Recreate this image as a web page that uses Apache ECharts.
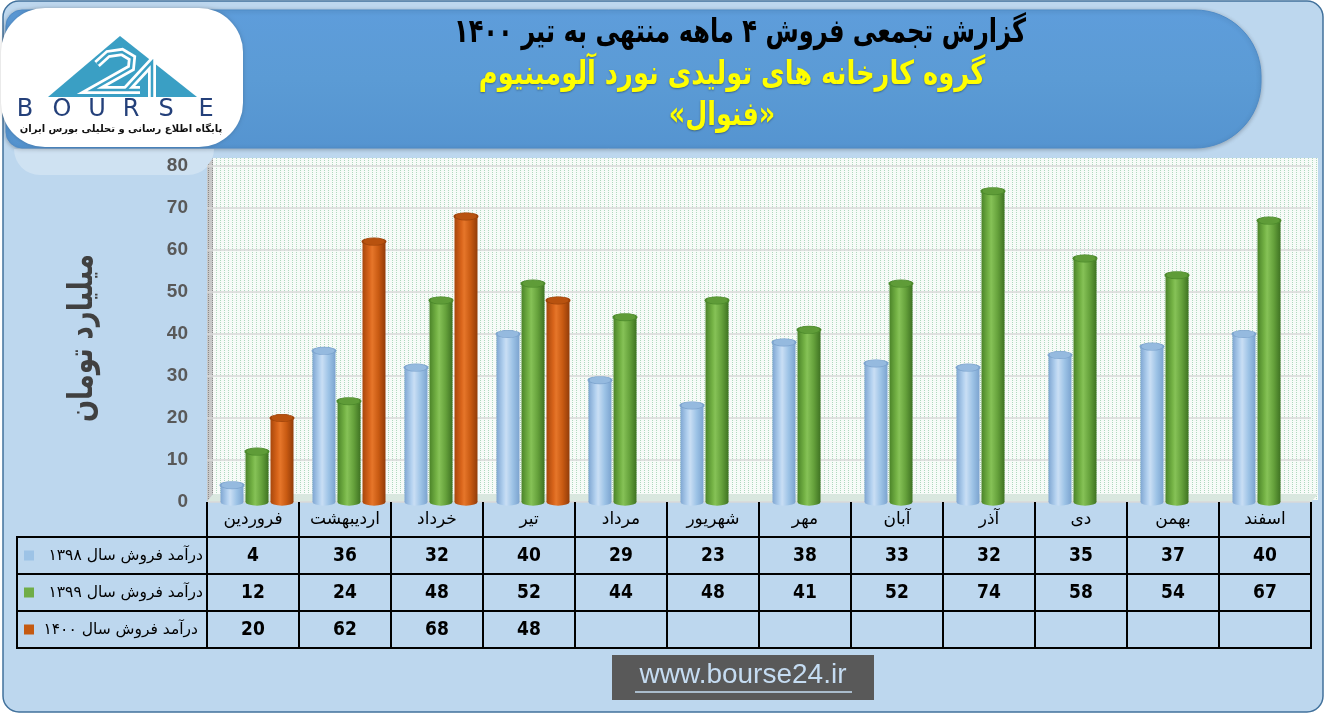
<!DOCTYPE html>
<html>
<head>
<meta charset="utf-8">
<script src="https://cdn.jsdelivr.net/npm/echarts@6/dist/echarts.min.js"></script>
<style>
html,body{margin:0;padding:0;background:#ffffff;}
#c{width:1326px;height:715px;}
</style>
</head>
<body>
<div id="c"></div>
<script>
// ---- data ----
const months = ['فروردین','اردیبهشت','خرداد','تیر','مرداد','شهریور','مهر','آبان','آذر','دی','بهمن','اسفند'];
const sales1398 = [4,36,32,40,29,23,38,33,32,35,37,40];
const sales1399 = [12,24,48,52,44,48,41,52,74,58,54,67];
const sales1400 = [20,62,68,48];
const seriesNames = ['درآمد فروش سال ۱۳۹۸','درآمد فروش سال ۱۳۹۹','درآمد فروش سال ۱۴۰۰'];
const yMin = 0, yMax = 80, yStep = 10;
const titleLine1 = 'گزارش تجمعی فروش ۴ ماهه منتهی به تیر ۱۴۰۰';
const titleLine2 = 'گروه کارخانه های تولیدی نورد آلومینیوم';
const titleLine3 = '«فنوال»';
const yAxisTitle = 'میلیارد تومان';
const siteText = 'www.bourse24.ir';

// ---- styles ----
const FA = "'DejaVu Sans', sans-serif";
const NUM = "'Liberation Sans Narrow','DejaVu Sans Condensed','Liberation Sans',sans-serif";
const palettes = [
  {stops:['#7fa6d2','#b3d1ef','#c9def4','#9dc3e6','#7ba3cf'], top:'#95badf', rim:'#7ea5cf', key:'#9dc3e6'},
  {stops:['#4b8429','#74b245','#86c257','#66a23c','#3f7322'], top:'#5f9c38', rim:'#4d8a2c', key:'#70ad47'},
  {stops:['#a8470c','#d9651b','#e6762a','#c85a12','#923c09'], top:'#b8520f', rim:'#9e440b', key:'#c55a11'}
];

function grad(stops){
  return new echarts.graphic.LinearGradient(0,0,1,0,[
    {offset:0,color:stops[0]},{offset:0.3,color:stops[1]},{offset:0.42,color:stops[2]},
    {offset:0.7,color:stops[3]},{offset:1,color:stops[4]}]);
}

function makeRender(idx){
  const p = palettes[idx];
  return function(params, api){
    const v = api.value(1);
    if (v == null || isNaN(v)) return;
    const top = api.coord([api.value(0), v]);
    const base = api.coord([api.value(0), 0]);
    const w = 23, gap = 2, shift = 4;
    const cx = top[0] + (idx - 1) * (w + gap) + shift;
    return {type:'group', children:[
      {type:'circle', shape:{cx:0,cy:0,r:w/2}, x:cx, y:base[1], scaleY:0.32, style:{fill:grad(p.stops)}},
      {type:'rect', shape:{x:cx-w/2, y:top[1], width:w, height:base[1]-top[1]}, style:{fill:grad(p.stops)}},
      {type:'circle', shape:{cx:0,cy:0,r:w/2}, x:cx, y:top[1], scaleY:0.32, style:{fill:p.top, stroke:p.rim, lineWidth:2}}
    ]};
  };
}

const allSeries = [sales1398, sales1399, sales1400];

const chart = echarts.init(document.getElementById('c'));
chart.setOption({
  backgroundColor:'#ffffff',
  animation:false,
  grid:{left:207, right:15, top:166, bottom:213},
  xAxis:{
    type:'category', data:months,
    axisLine:{show:false},
    axisTick:{show:true, length:146, interval:0, lineStyle:{color:'#000', width:2}},
    axisLabel:{color:'#000', fontSize:17, fontFamily:FA, margin:9, interval:0},
    splitLine:{show:false}
  },
  yAxis:{
    type:'value', min:yMin, max:yMax, interval:yStep,
    axisLine:{show:false}, axisTick:{show:false},
    axisLabel:{color:'#595959', fontSize:19, fontWeight:'bold', fontFamily:"'Liberation Sans',sans-serif", margin:19},
    splitLine:{lineStyle:{color:'#d9d9d9', width:1.5}}
  },
  series: allSeries.map((arr, idx) => ({
    type:'custom', name:seriesNames[idx], z:5,
    renderItem: makeRender(idx),
    encode:{x:0, y:1},
    data: arr.map((v,i)=>[i,v])
  }))
});

// dotted wall pattern
function makePattern(bg, dot){
  const cv = document.createElement('canvas');
  cv.width = 4; cv.height = 2;
  const ctx = cv.getContext('2d');
  ctx.fillStyle = bg; ctx.fillRect(0,0,4,2);
  ctx.fillStyle = dot; ctx.fillRect(0,0,1,1);
  return {image:cv, repeat:'repeat'};
}

const g = [];
// outer frame
g.push({type:'rect', z:-20, shape:{x:3,y:1,width:1320,height:711,r:16}, style:{fill:'#bdd7ee', stroke:'#41719c', lineWidth:1.5}});
// banner
g.push({type:'rect', z:-15, shape:{x:6,y:10,width:1255,height:138,r:[16,66,66,16]},
  style:{fill:new echarts.graphic.LinearGradient(0,0,0,1,[{offset:0,color:'#5e9ddb'},{offset:0.5,color:'#5b9bd5'},{offset:1,color:'#5594d0'}]), stroke:'#4f8cc8', lineWidth:1, shadowColor:'rgba(0,0,0,0.25)', shadowBlur:4, shadowOffsetY:1}});
// reflection under logo
g.push({type:'rect', z:-14, shape:{x:14,y:149,width:200,height:26,r:[0,0,26,26]}, style:{fill:'rgba(255,255,255,0.28)'}});
// back wall
g.push({type:'rect', z:-12, shape:{x:213,y:158,width:1105,height:342}, style:{fill:makePattern('#f7fbf8','#afd8be')}});
// left wall
g.push({type:'polygon', z:-11, shape:{points:[[207,166],[213,158],[213,494],[207,502]]}, style:{fill:makePattern('#c8c8c8','#8a8a8a')}});
// floor
g.push({type:'polygon', z:-11, shape:{points:[[207,502],[213,494],[1318,494],[1311,502]]}, style:{fill:'#d9e7df'}});

// logo
g.push({type:'rect', z:-5, shape:{x:1,y:8,width:242,height:139,r:44}, style:{fill:'#ffffff', shadowColor:'rgba(0,0,0,0.2)', shadowBlur:4}});
g.push({type:'polygon', z:-4, shape:{points:[[120,36],[48,97],[197,97]]}, style:{fill:'#3a9fc4'}});
const two = [[97,64],[108,54],[122,52],[132,58],[131,68],[92,90],[140,90]];
const four = [[126,90],[152,62],[152,97]];
[two, four].forEach(pts=>{
  g.push({type:'polyline', z:-3, shape:{points:pts}, style:{stroke:'#ffffff', lineWidth:8, fill:null, lineJoin:'miter'}});
  g.push({type:'polyline', z:-2, shape:{points:pts}, style:{stroke:'#3a9fc4', lineWidth:2.5, fill:null, lineJoin:'miter'}});
});
const bl = ['B','O','U','R','S','E'];
const bx = [25,62,97,131,166,206];
bl.forEach((ch,i)=>g.push({type:'text', z:-3, x:bx[i], y:110, style:{text:ch, fill:'#24407a', font:"24px 'DejaVu Sans'", align:'center', verticalAlign:'middle'}}));
g.push({type:'text', z:-3, x:121, y:129, style:{text:'پایگاه اطلاع رسانی و تحلیلی بورس ایران', fill:'#111', font:"bold 10px 'DejaVu Sans'", align:'center', verticalAlign:'middle'}});

// titles
const tShadow = {textShadowColor:'rgba(0,0,0,0.35)', textShadowBlur:2, textShadowOffsetY:1};
g.push({type:'text', z:5, x:740, y:33, scaleX:0.73, style:{text:titleLine1, fill:'#000000', font:"bold 33px 'DejaVu Sans'", align:'center', verticalAlign:'middle'}});
g.push({type:'text', z:5, x:732, y:75, scaleX:0.78, style:Object.assign({text:titleLine2, fill:'#ffff00', font:"bold 33px 'DejaVu Sans'", align:'center', verticalAlign:'middle'}, tShadow)});
g.push({type:'text', z:5, x:722, y:116, scaleX:0.77, style:Object.assign({text:titleLine3, fill:'#ffff00', font:"bold 33px 'DejaVu Sans'", align:'center', verticalAlign:'middle'}, tShadow)});

// y axis title
g.push({type:'text', z:5, x:83, y:338, rotation:Math.PI/2, scaleX:0.76, style:{text:yAxisTitle, fill:'#404040', font:"bold 34px 'DejaVu Sans'", align:'center', verticalAlign:'middle'}});

// table
const rowLines = [537,574,611,648];
rowLines.forEach(y=>g.push({type:'line', z:6, shape:{x1:17,y1:y,x2:1312,y2:y}, style:{stroke:'#000', lineWidth:2}}));
g.push({type:'line', z:6, shape:{x1:17,y1:536,x2:17,y2:649}, style:{stroke:'#000', lineWidth:2}});
const rowCenters = [555.5,592.5,629.5];
seriesNames.forEach((name,r)=>{
  g.push({type:'rect', z:6, shape:{x:24,y:rowCenters[r]-5,width:10,height:10}, style:{fill:palettes[r].key}});
  g.push({type:'text', z:6, x:r===2?198:203, y:rowCenters[r], style:{text:name, fill:'#000', font:"15.5px 'DejaVu Sans'", align:'right', verticalAlign:'middle'}});
  allSeries[r].forEach((v,i)=>{
    if (v == null) return;
    const px = chart.convertToPixel({xAxisIndex:0}, i);
    g.push({type:'text', z:6, x:px, y:rowCenters[r]+1, style:{text:String(v), fill:'#000', font:"bold 19px "+NUM, align:'center', verticalAlign:'middle'}});
  });
});

// website box
g.push({type:'rect', z:5, shape:{x:612,y:655,width:262,height:45}, style:{fill:'#595959'}});
g.push({type:'text', z:6, x:743, y:675, style:{text:siteText, fill:'#c5dcf2', font:"28px 'Liberation Sans'", align:'center', verticalAlign:'middle'}});
g.push({type:'line', z:6, shape:{x1:635,y1:692,x2:852,y2:692}, style:{stroke:'#c5dcf2', lineWidth:1.5}});

chart.setOption({graphic: g});
</script>
</body>
</html>
